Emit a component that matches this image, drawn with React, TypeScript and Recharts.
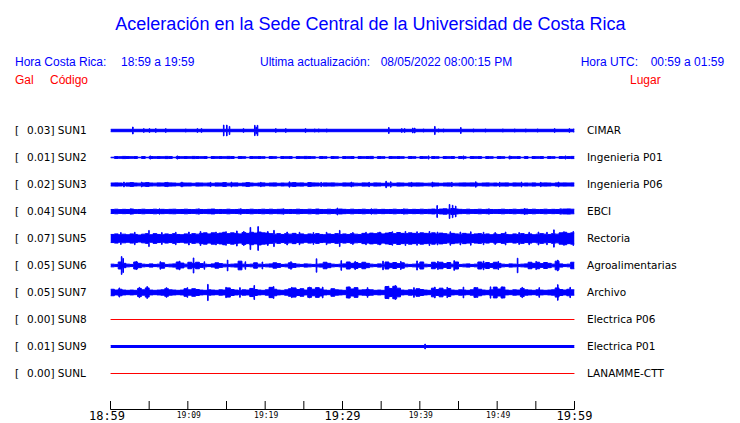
import React from "react";
import { ComposedChart, Area, XAxis, YAxis } from "recharts";

// ---------- data ----------
const codes = ["SUN1", "SUN2", "SUN3", "SUN4", "SUN5", "SUN6", "SUN7", "SUN8", "SUN9", "SUNL"];
const peakGal = [0.03, 0.01, 0.02, 0.04, 0.07, 0.05, 0.05, 0.0, 0.01, 0.0];
const places = [
  "CIMAR",
  "Ingenieria P01",
  "Ingenieria P06",
  "EBCI",
  "Rectoria",
  "Agroalimentarias",
  "Archivo",
  "Electrica P06",
  "Electrica P01",
  "LANAMME-CTT",
];
// minutes since 18:59
const timeTicks = [0, 5, 10, 15, 20, 25, 30, 35, 40, 45, 50, 55, 60];
const tickLabels = ["18:59", "", "19:09", "", "19:19", "", "19:29", "", "19:39", "", "19:49", "", "19:59"];
const majorLabels = ["18:59", "19:29", "19:59"];

// half-amplitude (display units, 10 per row) of each trace's background level
const baseAmp = [0.45, 0.1, 0.55, 0.75, 1.6, 0.45, 0.85, 0, 0.37, 0];

// envelopes: half-amplitude per 30 s bin (120 bins = 60 min)
const sun2Env = [
  0.1, 0.35, 0.3, 0.4, 0.35, 0.3, 0.35, 0.1, 0.35, 0.1, 0.35, 0.3, 0.35, 0.3, 0.4, 0.35, 0.1, 0.35, 0.3, 0.35,
  0.3, 0.4, 0.35, 0.3, 0.35, 0.1, 0.35, 0.3, 0.35, 0.3, 0.4, 0.35, 0.1, 0.35, 0.3, 0.1, 0.35, 0.3, 0.35, 0.3,
  0.1, 0.35, 0.3, 0.1, 0.35, 0.3, 0.35, 0.1, 0.35, 0.3, 0.4, 0.35, 0.3, 0.1, 0.35, 0.3, 0.1, 0.35, 0.3, 0.1,
  0.35, 0.3, 0.35, 0.1, 0.35, 0.3, 0.35, 0.4, 0.1, 0.35, 0.3, 0.1, 0.35, 0.3, 0.35, 0.3, 0.1, 0.35, 0.3, 0.1,
  0.35, 0.3, 0.1, 0.35, 0.3, 0.1, 0.35, 0.3, 0.35, 0.1, 0.35, 0.3, 0.1, 0.35, 0.3, 0.35, 0.1, 0.35, 0.3, 0.1,
  0.35, 0.3, 0.1, 0.35, 0.3, 0.35, 0.1, 0.35, 0.1, 0.35, 0.3, 0.35, 0.1, 0.35, 0.3, 0.1, 0.35, 0.3, 0.35, 0.4,
];
const sun3Env = [
  0.55, 0.6, 0.55, 0.45, 0.6, 0.7, 0.55, 0.5, 0.6, 0.7, 0.55, 0.5, 0.6, 0.55, 0.7, 0.6, 0.55, 0.45, 0.6, 0.55,
  0.55, 0.45, 0.6, 0.55, 0.5, 0.55, 0.45, 0.6, 0.55, 0.7, 0.5, 0.55, 0.6, 0.45, 0.55, 0.7, 0.55, 0.45, 0.55, 0.6,
  0.45, 0.55, 0.6, 0.45, 0.55, 0.5, 0.6, 0.7, 0.55, 0.6, 0.45, 0.7, 0.6, 0.55, 0.45, 0.6, 0.55, 0.6, 0.5, 0.45,
  0.6, 0.55, 0.6, 0.5, 0.45, 0.6, 0.55, 0.45, 0.6, 0.55, 0.45, 0.55, 0.5, 0.45, 0.6, 0.55, 0.45, 0.6, 0.55, 0.6,
  0.55, 0.45, 0.5, 0.6, 0.55, 0.45, 0.55, 0.6, 0.45, 0.5, 0.55, 0.6, 0.55, 0.6, 0.55, 0.45, 0.55, 0.6, 0.5, 0.55,
  0.45, 0.55, 0.6, 0.45, 0.6, 0.55, 0.45, 0.55, 0.5, 0.6, 0.45, 0.55, 0.6, 0.55, 0.45, 0.6, 0.55, 0.6, 0.55, 0.6,
];
const sun4Env = [
  0.75, 0.85, 0.7, 0.8, 0.75, 0.9, 0.7, 0.75, 0.85, 0.7, 0.75, 0.85, 0.7, 0.8, 0.7, 0.8, 0.85, 0.7, 0.75, 0.85,
  0.75, 0.7, 0.85, 0.75, 0.7, 0.8, 0.9, 0.7, 0.75, 0.7, 0.85, 0.7, 0.75, 0.85, 0.7, 0.75, 0.85, 0.7, 0.75, 0.85,
  0.75, 0.85, 0.7, 0.8, 0.85, 0.7, 0.75, 0.7, 0.85, 0.75, 0.7, 0.85, 0.75, 0.9, 0.75, 0.7, 0.85, 0.75, 0.8, 0.9,
  0.8, 0.7, 0.85, 0.7, 0.75, 0.85, 0.7, 0.75, 0.85, 0.7, 0.8, 0.7, 0.75, 0.85, 0.7, 0.75, 0.85, 0.7, 0.8, 0.75,
  0.85, 0.75, 0.8, 0.9, 0.75, 0.9, 1.0, 0.85, 1.1, 0.9, 0.8, 0.7, 0.85, 0.7, 0.75, 0.85, 0.7, 0.8, 0.75, 0.7,
  0.75, 0.85, 0.7, 0.75, 0.85, 0.7, 0.8, 0.9, 0.75, 0.85, 0.7, 0.75, 0.85, 0.7, 0.8, 0.75, 0.85, 0.9, 0.95, 0.85,
];
const sun5Env = [
  1.5, 1.7, 1.4, 1.6, 1.4, 1.7, 1.5, 1.3, 1.6, 1.8, 1.4, 1.8, 1.5, 1.4, 1.7, 1.5, 1.8, 1.5, 1.4, 1.7,
  1.5, 1.8, 1.6, 1.9, 2.1, 1.7, 2.1, 1.8, 2.0, 2.3, 1.8, 2.1, 1.9, 1.7, 2.2, 1.9, 2.3, 2.0, 2.4, 2.1,
  2.0, 1.8, 1.6, 1.8, 1.5, 1.8, 1.6, 1.9, 1.5, 1.7, 1.4, 1.7, 1.5, 1.8, 1.5, 1.4, 1.7, 1.5, 1.8, 1.5,
  1.7, 1.5, 1.8, 1.6, 1.5, 1.9, 1.7, 2.0, 1.8, 2.1, 1.7, 2.0, 2.2, 1.8, 2.2, 1.9, 1.8, 2.1, 1.9, 1.8,
  2.1, 1.9, 1.8, 2.1, 1.7, 2.0, 1.8, 1.6, 1.9, 1.7, 1.6, 1.9, 1.7, 1.5, 1.7, 1.8, 1.5, 1.7, 1.4, 1.7,
  1.5, 1.8, 1.5, 1.4, 1.7, 1.5, 1.8, 1.5, 1.7, 1.4, 1.6, 1.8, 1.6, 1.5, 1.8, 1.6, 2.1, 2.3, 1.9, 2.1,
];
const sun6Env = [
  0.5, 0.4, 1.3, 0.8, 0.5, 0.4, 1.3, 0.8, 0.5, 0.4, 0.6, 0.4, 0.5, 1.0, 0.4, 0.5, 0.6, 1.3, 0.9, 0.5,
  1.2, 0.8, 1.2, 0.7, 0.5, 0.4, 0.6, 1.0, 0.7, 0.5, 0.4, 0.5, 0.6, 1.6, 0.5, 0.4, 0.5, 1.0, 0.5, 0.4,
  0.5, 0.6, 1.0, 0.7, 0.4, 0.5, 1.0, 0.7, 0.5, 0.4, 0.6, 0.5, 0.4, 0.5, 0.6, 1.2, 0.8, 0.5, 0.4, 0.5,
  0.6, 1.3, 0.8, 1.1, 0.7, 1.2, 0.8, 0.5, 0.4, 0.6, 0.5, 1.3, 0.8, 1.1, 0.7, 1.0, 0.5, 0.4, 0.5, 0.6,
  1.3, 0.5, 0.4, 1.2, 0.8, 1.2, 0.7, 1.1, 0.5, 1.3, 0.4, 0.5, 0.6, 0.4, 0.5, 1.3, 0.8, 1.1, 0.7, 1.2,
  0.8, 0.5, 0.4, 0.6, 0.5, 0.4, 0.5, 0.6, 1.2, 0.8, 1.2, 0.7, 1.1, 0.8, 0.5, 1.6, 0.6, 0.4, 0.5, 1.2,
];
const sun7Env = [
  1.2, 0.9, 1.2, 0.9, 0.8, 0.9, 0.8, 1.5, 1.0, 1.7, 0.9, 0.8, 0.9, 1.0, 1.4, 1.0, 0.9, 0.8, 0.9, 1.4,
  1.0, 1.4, 1.1, 0.9, 0.8, 1.0, 0.9, 0.8, 1.0, 0.9, 1.7, 1.1, 0.9, 0.8, 1.0, 0.9, 1.5, 1.1, 0.9, 0.8,
  1.0, 1.9, 1.2, 0.9, 0.8, 1.0, 1.4, 1.7, 1.1, 1.4, 0.9, 1.8, 1.2, 1.8, 1.3, 0.9, 0.8, 1.4, 1.0, 0.9,
  0.8, 2.0, 1.3, 1.8, 0.9, 1.0, 1.1, 1.0, 0.8, 0.9, 0.8, 2.2, 1.5, 2.3, 1.6, 0.9, 0.8, 1.0, 0.9, 1.4,
  1.1, 0.9, 0.8, 1.6, 1.1, 1.6, 1.0, 1.5, 0.9, 0.8, 1.0, 0.9, 0.8, 1.0, 1.8, 1.2, 0.9, 0.8, 1.0, 2.0,
  1.3, 2.0, 0.9, 0.8, 1.0, 0.9, 1.5, 1.0, 0.9, 0.8, 1.0, 0.9, 0.8, 0.9, 1.0, 1.7, 1.1, 0.9, 1.2, 1.0,
];
const envelopes: (number[] | null)[] = [null, sun2Env, sun3Env, sun4Env, sun5Env, sun6Env, sun7Env, null, null, null];

// spikes: [minute, half-amplitude]
const sun1Spikes: [number, number][] = [
  [2.85, 1.3], [4.27, 0.7], [5.0, 0.7], [5.82, 0.7], [7.11, 0.7], [9.7, 0.6], [11.2, 0.7], [11.73, 0.7],
  [14.6, 2.0], [15.0, 2.0], [15.35, 1.5], [17.16, 0.7], [18.62, 1.9], [18.8, 1.2], [18.97, 1.9], [21.34, 0.7],
  [22.63, 0.7], [25.18, 0.7], [26.38, 0.6], [26.9, 0.6], [27.93, 0.6], [35.95, 1.1], [37.63, 0.7], [38.0, 0.7],
  [39.05, 0.9], [39.3, 0.9], [40.44, 0.6], [41.9, 1.5], [42.4, 0.6], [43.03, 0.6], [45.26, 1.1], [46.9, 0.6],
  [48.45, 0.6], [50.7, 0.6], [52.24, 0.6], [53.67, 0.6], [55.2, 0.6], [57.4, 0.7], [59.3, 0.7], [59.87, 0.6],
];
const sun2Spikes: [number, number][] = [[5.1, 0.6], [8.6, 0.6], [41.1, 0.6], [45.6, 0.6], [51.6, 0.6], [58.8, 0.6]];
const sun3Spikes: [number, number][] = [
  [1.7, 0.9], [4.0, 0.9], [7.3, 0.8], [9.2, 0.9], [12.9, 0.8], [15.6, 0.9], [19.4, 0.8], [23.1, 1.0], [27.2, 0.8],
  [31.1, 0.9], [33.4, 0.8], [35.6, 1.2], [36.2, 1.0], [38.9, 0.8], [41.6, 0.9], [44.1, 0.8], [47.2, 1.0],
  [50.3, 0.8], [53.1, 0.9], [55.6, 0.8], [57.9, 0.9],
];
const sun4Spikes: [number, number][] = [
  [2.6, 1.0], [6.3, 1.0], [11.4, 1.0], [16.8, 1.0], [22.3, 1.0], [29.3, 1.3], [33.7, 1.0], [37.9, 1.0],
  [42.2, 2.2], [43.8, 2.6], [44.2, 2.3], [44.6, 2.0], [48.9, 1.0], [53.5, 1.1], [58.2, 1.0],
];
const sun5Spikes: [number, number][] = [
  [1.3, 2.2], [3.1, 2.3], [4.95, 3.0], [6.6, 2.2], [8.4, 2.3], [10.1, 2.4], [11.6, 2.6], [13.6, 2.4],
  [14.9, 2.5], [16.3, 2.8], [17.2, 2.6], [18.05, 4.1], [19.05, 4.4], [20.3, 2.6], [21.1, 3.0], [22.8, 2.4],
  [24.4, 2.3], [26.2, 2.2], [27.9, 2.3], [29.6, 3.0], [31.3, 2.2], [33.0, 2.3], [34.8, 2.4], [36.4, 2.5],
  [38.1, 2.6], [39.6, 2.5], [41.2, 2.6], [42.25, 2.4], [43.9, 2.5], [45.2, 2.4], [46.55, 2.5], [48.2, 2.3],
  [49.7, 2.2], [51.05, 2.4], [52.8, 2.2], [54.1, 2.3], [55.3, 2.4], [56.4, 2.3], [57.3, 3.2], [58.6, 2.5],
  [59.8, 2.6],
];
const sun6Spikes: [number, number][] = [
  [1.4, 3.3], [1.6, 2.6], [3.3, 1.5], [6.4, 1.4], [8.9, 1.6], [10.7, 2.8], [12.1, 1.4], [15.1, 2.0],
  [17.4, 1.4], [19.6, 1.3], [23.3, 1.4], [26.6, 2.5], [29.8, 1.8], [31.6, 1.5], [35.2, 1.6], [37.5, 1.5],
  [39.6, 1.7], [42.3, 1.5], [44.4, 1.8], [48.2, 1.6], [50.1, 1.5], [52.6, 2.7], [55.0, 1.5], [57.8, 2.0],
];
const sun7Spikes: [number, number][] = [
  [1.1, 1.7], [3.7, 1.9], [4.7, 2.2], [7.2, 1.8], [9.9, 1.8], [12.55, 3.0], [14.9, 1.9], [16.7, 1.8],
  [18.55, 2.6], [21.05, 2.2], [23.4, 1.9], [25.7, 2.0], [27.4, 2.0], [30.8, 2.1], [33.2, 1.8], [35.9, 2.3],
  [36.8, 2.6], [39.2, 1.8], [41.9, 2.0], [43.5, 1.9], [45.6, 2.0], [47.3, 1.8], [49.1, 2.1], [50.6, 2.1],
  [53.2, 1.9], [55.4, 1.8], [57.8, 2.9], [59.4, 1.9],
];
const sun9Spikes: [number, number][] = [[40.64, 0.9]];
const spikes: [number, number][][] = [
  sun1Spikes, sun2Spikes, sun3Spikes, sun4Spikes, sun5Spikes, sun6Spikes, sun7Spikes, [], sun9Spikes, [],
];

// ---------- helpers ----------
const ROW = 10;
const rowCenter = (i: number) => 95 - ROW * i;
const rowCenters = codes.map((_, i) => rowCenter(i));
const BIN = 0.5;
const SPIKE_W = 0.08;

function buildTrace(i: number) {
  const c = rowCenter(i);
  const env = envelopes[i];
  const ampAt = (t: number) => {
    if (!env) return baseAmp[i];
    const k = Math.max(0, Math.min(env.length - 1, Math.floor(t / BIN)));
    return env[k];
  };
  const pts: { t: number; a: number }[] = [];
  if (env) {
    env.forEach((a, k) => pts.push({ t: k * BIN, a }));
  } else {
    pts.push({ t: 0, a: baseAmp[i] });
  }
  pts.push({ t: 60, a: ampAt(59.99) });
  spikes[i].forEach(([ts, amp]) => {
    pts.push({ t: ts, a: amp });
    pts.push({ t: Math.min(60, ts + SPIKE_W), a: ampAt(ts + SPIKE_W) });
  });
  pts.sort((p, q) => p.t - q.t);
  return pts.map((p) => ({ t: p.t, r: [c - p.a, c + p.a] }));
}

const traces = codes.map((_, i) => buildTrace(i));
const traceColor = (i: number) => (peakGal[i] === 0 ? "#ff0000" : "#0000ff");

// ---------- ticks ----------
const TimeTick = (props: any) => {
  const { x, y, payload } = props;
  const idx = timeTicks.indexOf(payload.value);
  const label = idx >= 0 ? tickLabels[idx] : "";
  const big = majorLabels.includes(label);
  const dx = idx === 0 ? -3.5 : big ? 0 : 1;
  return (
    <g>
      <line x1={x} x2={x} y1={y - 8.5} y2={y} stroke="#000" strokeWidth={1} />
      {label ? (
        <text
          x={x + dx}
          y={big ? y + 10.5 : y + 8.5}
          textAnchor="middle"
          fontFamily="'DejaVu Sans Mono', monospace"
          fontSize={big ? 12 : 8}
          fill="#000"
        >
          {label}
        </text>
      ) : null}
    </g>
  );
};

const rowIndex = (v: number) => Math.round((95 - v) / ROW);

const LeftRowTick = (props: any) => {
  const { y, payload } = props;
  const i = rowIndex(payload.value);
  if (i < 0 || i >= codes.length) return null;
  const by = y + 3.8;
  return (
    <g fontFamily="'DejaVu Sans', sans-serif" fontSize={10.5} fill="#000">
      <text x={15} y={by}>[</text>
      <text x={27} y={by}>{`${peakGal[i].toFixed(2)}] ${codes[i]}`}</text>
    </g>
  );
};

const RightRowTick = (props: any) => {
  const { y, payload } = props;
  const i = rowIndex(payload.value);
  if (i < 0 || i >= codes.length) return null;
  return (
    <text x={587} y={y + 3.8} fontFamily="'DejaVu Sans', sans-serif" fontSize={10.5} fill="#000">
      {places[i]}
    </text>
  );
};

const SANS = "'Liberation Sans', Arial, Helvetica, sans-serif";
const Y_DOMAIN: [number, number] = [-25 / 3, 100];

export default function App() {
  return (
    <div style={{ position: "absolute", left: 0, top: 0, width: 740, height: 423, background: "#fff" }}>
      <ComposedChart width={740} height={423} margin={{ top: 117, right: 0, bottom: 0, left: 0 }}>
        <XAxis
          type="number"
          dataKey="t"
          domain={[0, 60]}
          ticks={timeTicks}
          interval={0}
          height={13.5}
          tickSize={0}
          tickMargin={0}
          tickLine={false}
          axisLine={{ stroke: "#000", strokeWidth: 1 }}
          tick={<TimeTick />}
          allowDataOverflow
        />
        <YAxis
          yAxisId="left"
          type="number"
          domain={Y_DOMAIN}
          ticks={rowCenters}
          interval={0}
          width={110.5}
          axisLine={false}
          tickLine={false}
          tick={<LeftRowTick />}
          allowDataOverflow
        />
        <YAxis
          yAxisId="right"
          orientation="right"
          type="number"
          domain={Y_DOMAIN}
          ticks={rowCenters}
          interval={0}
          width={165.5}
          axisLine={false}
          tickLine={false}
          tick={<RightRowTick />}
          allowDataOverflow
        />
        {traces.map((data, i) => (
          <Area
            key={codes[i]}
            yAxisId="left"
            data={data}
            dataKey="r"
            type="stepAfter"
            stroke={traceColor(i)}
            strokeWidth={1}
            fill={traceColor(i)}
            fillOpacity={1}
            dot={false}
            activeDot={false}
            isAnimationActive={false}
          />
        ))}
      </ComposedChart>
      <svg
        width={740}
        height={423}
        style={{ position: "absolute", left: 0, top: 0, pointerEvents: "none" }}
      >
        <text x={370.5} y={30} textAnchor="middle" fontFamily={SANS} fontSize={18} fill="#0000ff">
          Aceleración en la Sede Central de la Universidad de Costa Rica
        </text>
        <g fontFamily={SANS} fontSize={12} fill="#0000ff">
          <text x={15} y={65.5}>Hora Costa Rica:</text>
          <text x={121} y={65.5}>18:59 a 19:59</text>
          <text x={260} y={65.5}>Ultima actualización:</text>
          <text x={380.7} y={65.5}>08/05/2022 08:00:15 PM</text>
          <text x={580.7} y={65.5}>Hora UTC:</text>
          <text x={650.7} y={65.5}>00:59 a 01:59</text>
        </g>
        <g fontFamily={SANS} fontSize={12} fill="#ff0000">
          <text x={15} y={84}>Gal</text>
          <text x={50} y={84}>Código</text>
          <text x={630} y={84}>Lugar</text>
        </g>
      </svg>
    </div>
  );
}
